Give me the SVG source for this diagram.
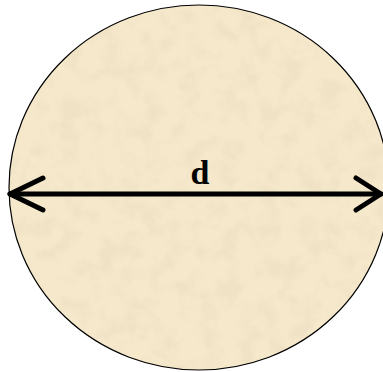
<svg xmlns="http://www.w3.org/2000/svg" width="383" height="372" viewBox="0 0 383 372">
  <defs>
    <filter id="parch" x="0" y="0" width="100%" height="100%" filterUnits="userSpaceOnUse">
      <feTurbulence type="fractalNoise" baseFrequency="0.05" numOctaves="4" seed="3" result="n"/>
      <feColorMatrix in="n" type="matrix" values="0 0 0 0 0.87  0 0 0 0 0.76  0 0 0 0 0.56  0 0 0 -3.2 1.8" result="c"/>
      <feComposite in="c" in2="SourceGraphic" operator="in"/>
    </filter>
    <style>
      .outline { fill: none; stroke: #000; stroke-width: 1.2; }
      .arrow { fill: none; stroke: #000; stroke-width: 5; stroke-linecap: round; stroke-linejoin: round; }
      .label { font-family: "Liberation Serif", "Times New Roman", serif; font-weight: bold; font-size: 34px; fill: #000; }
    </style>
  </defs>
  <g id="disk">
    <ellipse cx="199" cy="187.5" rx="190" ry="182.5" fill="#f5e8cb"/>
    <ellipse cx="199" cy="187.5" rx="190" ry="182.5" fill="#e3c895" filter="url(#parch)"/>
    <ellipse class="outline" cx="199" cy="187.5" rx="190" ry="182.5"/>
  </g>
  <g id="connectors">
    <line class="arrow" x1="10" y1="194" x2="381" y2="194"/>
    <polyline class="arrow" points="43,178 10,194 43,210"/>
    <polyline class="arrow" points="356,178 381,194 356,210"/>
  </g>
  <g id="label-d">
    <text class="label" x="200" y="184" text-anchor="middle">d</text>
  </g>
</svg>
